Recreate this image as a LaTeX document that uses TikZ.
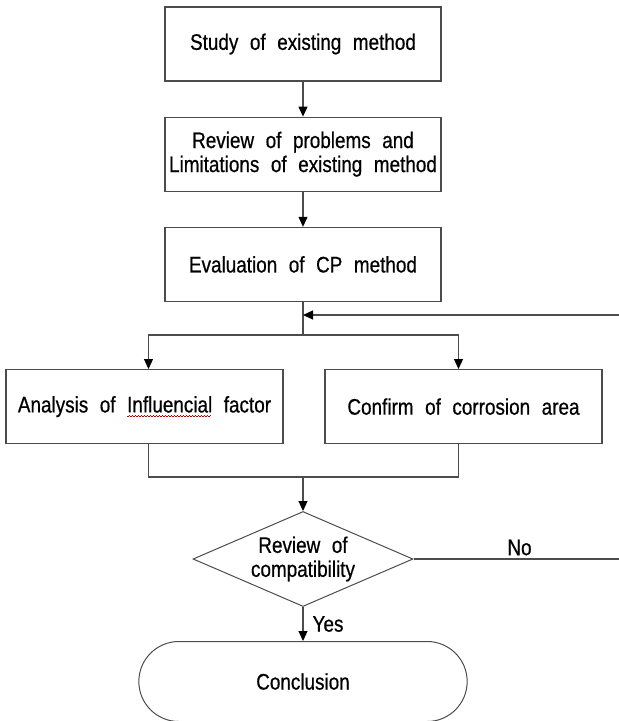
\documentclass[tikz,border=0pt]{standalone}
\usepackage{fontspec}
\setmainfont{Liberation Sans}[FakeStretch=0.84,WordSpace=2.2,FakeBold=0.6]
\usepackage{tikz}
\usetikzlibrary{positioning,calc,shapes.geometric,shapes.misc,arrows.meta}

% red wavy mark under a word
\newsavebox\spellbox
\newcommand\spellwave[1]{\sbox\spellbox{#1}\rlap{\raisebox{-4pt}{\color{red!75!black}\leaders\hbox to 3pt{\vrule width 1.5pt height 0.7pt\raise0.7pt\hbox{\vrule width 1.5pt height 0.7pt}}\hskip\wd\spellbox}}#1}

\tikzset{
	stepbox/.style={draw=black!70,line width=1.2pt,minimum width=276pt,minimum height=74pt,align=center},
	decide/.style={diamond,draw=black!70,line width=1pt,aspect=2.3,inner sep=0pt,minimum width=220pt,minimum height=95pt,align=center},
	endbox/.style={rounded rectangle,draw=black!70,line width=1pt,minimum width=335pt,minimum height=80pt},
	arr/.style={-{Triangle[length=10pt,width=9pt,color=black]},draw=black!70,line width=1.2pt},
	wire/.style={draw=black!70,line width=1.2pt}
}

\begin{document}
\begin{tikzpicture}[font=\fontsize{22.5}{24}\selectfont]
	\clip (0,0) rectangle (619pt,-721pt);
	
	\node[stepbox] (study) at (303pt,-44pt) {Study of existing method};
	\node[stepbox,below=35pt of study] (review) {Review of problems and\\Limitations of existing method};
	\node[stepbox,below=35pt of review] (evalcp) {Evaluation of CP method};
	
	\node[stepbox,minimum width=277pt,below=67pt of evalcp,xshift=-158.5pt] (factor) {Analysis of \spellwave{Influencial} factor};
	\node[stepbox,minimum width=277pt,below=67pt of evalcp,xshift=160.5pt] (area) {Confirm of corrosion area};
	
	\node[decide,below=209pt of evalcp] (compat) {Review of\\compatibility};
	\node[endbox,below=34pt of compat] (concl) {Conclusion};
	
	\coordinate (split) at ($(evalcp.south)+(0,-33pt)$);
	\coordinate (join) at ($(evalcp.south)+(0,-13pt)$);
	\coordinate (merge) at ($(compat.north)+(0,34pt)$);
	\coordinate (back) at ($(compat.east)+(212pt,0)$);
	
	\draw[wire] (evalcp.south)--(split);
	\draw[arr] (split) -| ([xshift=4pt]factor.north);
	\draw[arr] (split) -| ([xshift=-5pt]area.north);
	\draw[arr] (study.south)--(review.north);
	\draw[arr] (review.south)--(evalcp.north);
	\draw[wire] ([xshift=4pt]factor.south) |- (merge) -| ([xshift=-5pt]area.south);
	\draw[arr] (merge)--(compat.north);
	\draw[arr] (compat.east) -- node[above,inner sep=3pt] (no) {No} (back) |- (join);
	\draw[arr] (compat.south) -- node[right,inner sep=9pt] (yes) {Yes} (concl.north);
\end{tikzpicture}
\end{document}
